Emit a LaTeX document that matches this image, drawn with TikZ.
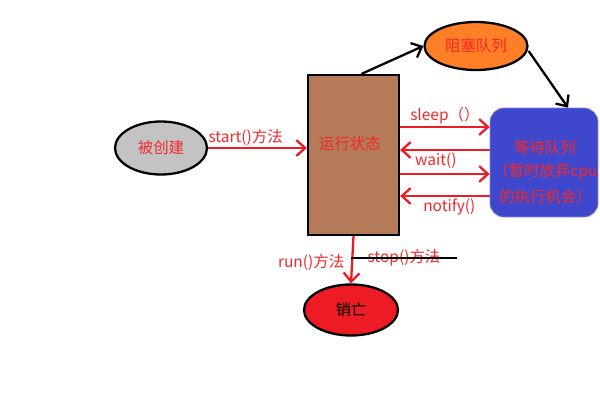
\documentclass[tikz,border=0pt]{standalone}
\usepackage{fontspec}
\setmainfont{Noto Sans CJK SC}
\usetikzlibrary{shapes.geometric,arrows.meta}
\definecolor{runbrown}{RGB}{181,122,87}
\definecolor{blockorange}{RGB}{255,127,39}
\definecolor{waitblue}{RGB}{63,72,204}
\definecolor{deadred}{RGB}{237,28,36}
\definecolor{textred}{RGB}{245,40,40}
\definecolor{createdgray}{RGB}{195,195,195}

\begin{document}
\begin{tikzpicture}[x=0.02cm, y=-0.02cm, font=\fontsize{8.8}{10}\selectfont,
        >={Straight Barb[length=5pt,width=9pt]},
        state/.style={ellipse, draw, line width=1.3pt, inner sep=0pt},
        redtext/.style={text=textred, inner sep=1pt},
        redline/.style={draw=deadred, line width=1.3pt},
        blackline/.style={draw=black, line width=1.3pt}]
    \useasboundingbox (0,0) rectangle (600,400);
    \node[state, fill=createdgray, minimum width=1.84cm, minimum height=1.06cm, text=textred] (created) at (161,148) {被创建};
    \node[draw, line width=1.3pt, fill=runbrown, minimum width=1.82cm, minimum height=3.2cm] (run) at (353.5,155) {};
    \node[redtext] (runtext) at (350,144) {运行状态};
    \node[state, fill=blockorange, minimum width=2.06cm, minimum height=0.96cm, text=textred] (block) at (476,46) {阻塞队列};
    \node[draw=waitblue!70, fill=waitblue, rounded corners=8pt, minimum width=2.16cm, minimum height=2.18cm] (wait) at (544,162.5) {};
    \node[redtext] (wait1) at (545,148) {等待队列};
    \node[redtext, anchor=west] (wait2) at (491,172) {（暂时放弃cpu};
    \node[redtext, anchor=west] (wait3) at (497,197) {的执行机会）};
    \node[state, fill=deadred, minimum width=1.88cm, minimum height=1.02cm] (dead) at (351,310) {销亡};

    \draw[redline, ->] (created.east) -- (created.east -| run.west)
        node[redtext, above, pos=0.38] (startlabel) {start()方法};
    \draw[blackline, ->] ([xshift=0.16cm]run.north) -- (block.west);
    \draw[blackline, ->] ([yshift=-0.1cm]block.east) -- ([xshift=0.48cm]wait.north);

    \draw[redline, ->] (run.east |- 0,127) -- (wait.west |- 0,127)
        node[redtext, above, pos=0.5] (sleeplabel) {sleep（）};
    \draw[redline, <-] (run.east |- 0,150) -- (wait.west |- 0,150)
        node[redtext, below, pos=0.4] (waitlabel) {wait()};
    \draw[redline, ->] (run.east |- 0,174) -- (wait.west |- 0,174);
    \draw[redline, <-] (run.east |- 0,196) -- (wait.west |- 0,196)
        node[redtext, below, pos=0.55] (notifylabel) {notify()};

    \draw[redline, ->] (run.south) -- (dead.north)
        node[redtext, left, pos=0.55, xshift=-0.1cm] (runlabel) {run()方法};
    \node[redtext, inner xsep=9pt] (stop) at (404,258) {stop()方法};
    \draw[blackline, line width=0.9pt] (stop.west) -- (stop.east);
\end{tikzpicture}
\end{document}
